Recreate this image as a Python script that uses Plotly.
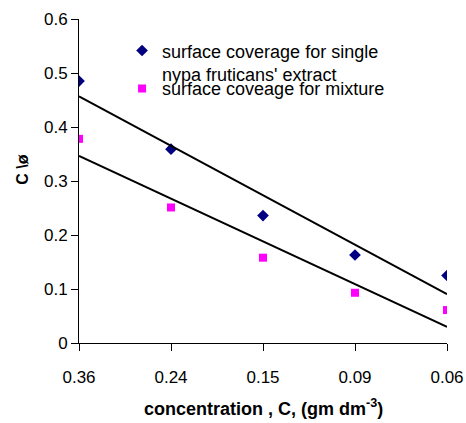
import numpy as np
import plotly.graph_objects as go

# concentration categories (gm dm^-3), plotted at equal spacing
concentrations = ["0.36", "0.24", "0.15", "0.09", "0.06"]

# surface coverage values
single_extract = [0.485, 0.359, 0.236, 0.163, 0.125]
mixture = [0.378, 0.251, 0.158, 0.093, 0.061]

y_ticks = [0, 0.1, 0.2, 0.3, 0.4, 0.5, 0.6]

FONT = "Liberation Sans, Arial, sans-serif"

pos = np.arange(len(concentrations))

fig = go.Figure()

fig.add_trace(
    go.Scatter(
        x=pos,
        y=single_extract,
        mode="markers",
        marker=dict(symbol="diamond", color="#000080", size=9),
        name="surface coverage for single<br>nypa fruticans' extract",
        legend="legend",
    )
)
fig.add_trace(
    go.Scatter(
        x=pos,
        y=mixture,
        mode="markers",
        marker=dict(symbol="square", color="#FF00FF", size=8),
        name="surface coveage for mixture",
        legend="legend2",
    )
)

# linear trend lines (Excel-style, fitted on category index)
for series in (single_extract, mixture):
    slope, intercept = np.polyfit(pos, series, 1)
    fig.add_trace(
        go.Scatter(
            x=[pos[0], pos[-1]],
            y=[intercept + slope * pos[0], intercept + slope * pos[-1]],
            mode="lines",
            line=dict(color="black", width=2),
            showlegend=False,
            hoverinfo="skip",
        )
    )

axis_style = dict(
    showgrid=False,
    zeroline=False,
    showline=True,
    linecolor="black",
    linewidth=1,
    ticks="outside",
    ticklen=7,
    tickcolor="black",
    tickfont=dict(size=17, color="black"),
    automargin=False,
)
fig.update_xaxes(
    range=[0, len(concentrations) - 1],
    tickvals=list(pos),
    ticktext=concentrations,
    ticklabelstandoff=12,
    **axis_style,
)
fig.update_yaxes(
    range=[0, 0.6],
    tickvals=y_ticks,
    ticktext=[f"{v:g}" for v in y_ticks],
    **axis_style,
)

fig.add_annotation(
    text="<b>concentration , C, (gm dm<sup>-3</sup>)</b>",
    xref="paper", yref="paper",
    x=0.501, y=-0.242,
    showarrow=False,
    font=dict(size=18, color="black", family=FONT),
    xanchor="center", yanchor="bottom",
)
fig.add_annotation(
    text="<b>C \\ø</b>",
    xref="paper", yref="paper",
    x=-0.152, y=0.535,
    textangle=-90,
    showarrow=False,
    font=dict(size=16, color="black", family=FONT),
    xanchor="center", yanchor="middle",
)

legend_style = dict(
    xanchor="left", yanchor="top",
    bgcolor="rgba(0,0,0,0)",
    font=dict(size=18, color="black"),
    valign="top",
)

fig.update_layout(
    width=466,
    height=423,
    margin=dict(l=79, r=19, t=19, b=80),
    paper_bgcolor="white",
    plot_bgcolor="white",
    font=dict(family=FONT, color="black"),
    legend=dict(x=0.117, y=0.959, **legend_style),
    legend2=dict(x=0.117, y=0.842, **legend_style),
    showlegend=True,
)

# drop the page's default body margin so the figure fills the window
fig.write_html(
    "out.html",
    config={"displayModeBar": False},
    post_script="document.body.style.margin='0';document.body.style.overflow='hidden';",
)
